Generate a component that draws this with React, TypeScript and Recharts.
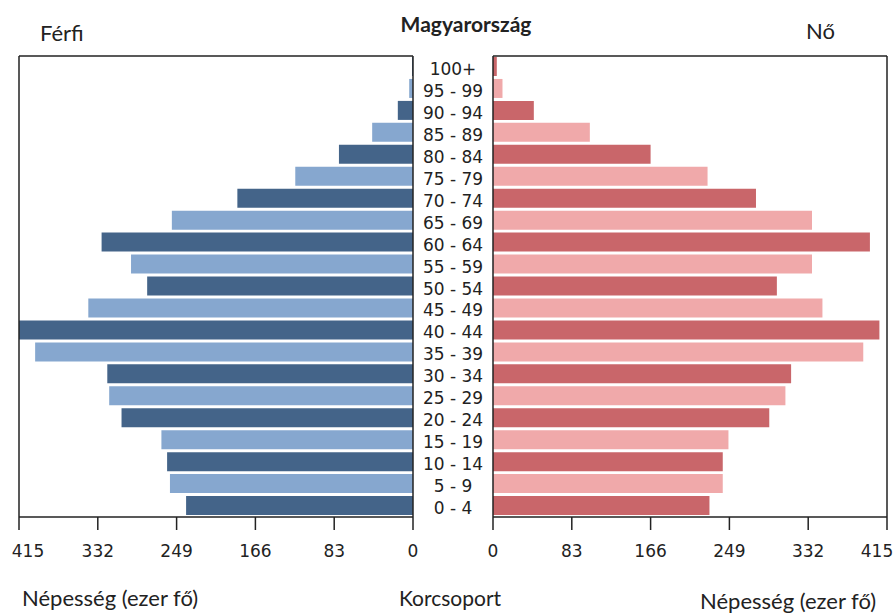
import React from "react"
import { BarChart, Bar, XAxis, YAxis, Cell } from "recharts"

// korcsoportok felülről lefelé
const ageGroups = [
  "100+", "95 - 99", "90 - 94", "85 - 89", "80 - 84", "75 - 79", "70 - 74",
  "65 - 69", "60 - 64", "55 - 59", "50 - 54", "45 - 49", "40 - 44", "35 - 39",
  "30 - 34", "25 - 29", "20 - 24", "15 - 19", "10 - 14", "5 - 9", "0 - 4",
]
const male = [1, 4, 16, 43, 78, 124, 185, 254, 328, 297, 280, 342, 415, 398, 322, 320, 307, 265, 259, 256, 239]
const female = [4, 10, 43, 102, 166, 226, 277, 336, 397, 336, 299, 347, 407, 390, 314, 308, 291, 248, 242, 242, 228]
const xTicks = [0, 83, 166, 249, 332, 415]

const MALE_DARK = "#446489"
const MALE_LIGHT = "#86a7cf"
const FEMALE_DARK = "#c9666a"
const FEMALE_LIGHT = "#f0a9aa"

const rows = ageGroups.map((age, i) => ({ age, male: male[i], female: female[i] }))

const LINE = "#222"
const TEXT = "#222"
const tickFont = "DejaVu Sans, sans-serif"
const labelFont = "Lato, sans-serif"

function XTick(props: any) {
  const { x, y, payload, shift } = props
  const dx = payload.value === 415 ? shift : 0
  return (
    <text x={x + dx} y={y} dy={12} textAnchor="middle" fill={TEXT} fontSize={17} fontFamily={tickFont}>
      {payload.value}
    </text>
  )
}

function AgeTick(props: any) {
  const { x, y, payload } = props
  return (
    <text x={x} y={y} dy={8} textAnchor="middle" fill={TEXT} fontSize={17} fontFamily={tickFont}>
      {payload.value}
    </text>
  )
}

// rows are counted from the bottom: 0-4 dark, 5-9 light, ...
const isDark = (i: number) => (ageGroups.length - 1 - i) % 2 === 0

function Label({ text, left, top, size = 22, bold = false, center = false }: any) {
  return (
    <div
      style={{
        position: "absolute",
        left,
        top,
        fontFamily: labelFont,
        fontSize: size,
        fontWeight: bold ? 700 : 400,
        lineHeight: 1,
        color: TEXT,
        whiteSpace: "nowrap",
        transform: center ? "translateX(-50%)" : undefined,
      }}
    >
      {text}
    </div>
  )
}

export default function App() {
  return (
    <div style={{ position: "absolute", left: 0, top: 0, width: 895, height: 613, background: "#fff", overflow: "hidden" }}>
      <div style={{ position: "absolute", left: 0, top: 0 }}>
        <BarChart width={493} height={613} data={rows} layout="vertical" margin={{ top: 55, right: 0, left: 18, bottom: 56 }}>
          <XAxis
            type="number"
            domain={[0, 415]}
            ticks={xTicks}
            reversed
            allowDataOverflow
            interval={0}
            tickSize={13}
            tickMargin={15}
            height={40}
            stroke={LINE}
            strokeWidth={1.5}
            tick={<XTick shift={9} />}
          />
          <XAxis xAxisId="top" orientation="top" type="number" domain={[0, 415]} reversed tick={false} tickLine={false} height={1} stroke={LINE} strokeWidth={1.5} />
          <YAxis yAxisId="box" orientation="left" type="category" dataKey="age" tick={false} tickLine={false} width={1} stroke={LINE} strokeWidth={1.5} />
          <YAxis
            type="category"
            dataKey="age"
            orientation="right"
            width={80}
            tickLine={false}
            tickSize={0}
            tickMargin={40}
            stroke={LINE}
            strokeWidth={1.5}
            interval={0}
            tick={<AgeTick />}
          />
          <Bar dataKey="male" barSize={19} isAnimationActive={false}>
            {rows.map((r, i) => (
              <Cell key={r.age} fill={isDark(i) ? MALE_DARK : MALE_LIGHT} />
            ))}
          </Bar>
        </BarChart>
      </div>
      <div style={{ position: "absolute", left: 472, top: 0 }}>
        <BarChart width={423} height={613} data={rows} layout="vertical" margin={{ top: 55, right: 7, left: 20, bottom: 56 }}>
          <XAxis
            type="number"
            domain={[0, 415]}
            ticks={xTicks}
            allowDataOverflow
            interval={0}
            tickSize={13}
            tickMargin={15}
            height={40}
            stroke={LINE}
            strokeWidth={1.5}
            tick={<XTick shift={-10} />}
          />
          <XAxis xAxisId="top" orientation="top" type="number" domain={[0, 415]} tick={false} tickLine={false} height={1} stroke={LINE} strokeWidth={1.5} />
          <YAxis yAxisId="box" orientation="right" type="category" dataKey="age" tick={false} tickLine={false} width={1} stroke={LINE} strokeWidth={1.5} />
          <YAxis type="category" dataKey="age" orientation="left" tick={false} tickLine={false} width={1} stroke={LINE} strokeWidth={1.5} />
          <Bar dataKey="female" barSize={19} isAnimationActive={false}>
            {rows.map((r, i) => (
              <Cell key={r.age} fill={isDark(i) ? FEMALE_DARK : FEMALE_LIGHT} />
            ))}
          </Bar>
        </BarChart>
      </div>

      <Label text="Magyarország" left={466} top={13} size={21} bold center />
      <Label text="Férfi" left={40} top={22} />
      <Label text="Nő" left={806} top={20} />
      <Label text="Népesség (ezer fő)" left={22} top={587} />
      <Label text="Korcsoport" left={450} top={587} size={21} center />
      <Label text="Népesség (ezer fő)" left={700} top={590} />
    </div>
  )
}
